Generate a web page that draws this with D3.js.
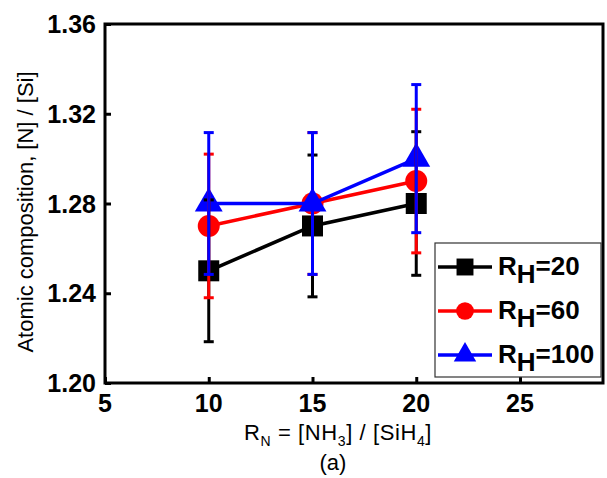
<!DOCTYPE html>
<html>
<head>
<meta charset="utf-8">
<script src="https://cdn.jsdelivr.net/npm/d3@7"></script>
<style>
  body { margin: 0; background: #fff; }
  svg { display: block; font-family: Arial, "Liberation Sans", sans-serif; }
</style>
</head>
<body>
<div class="container"></div>
<script>
// data
const rn = [10, 15, 20];
const rh20 = [1.25, 1.27, 1.28];
const err20 = [0.0316, 0.0316, 0.032];
const rh60 = [1.27, 1.28, 1.29];
const err60 = [0.032, 0.0316, 0.032];
const rh100 = [1.28, 1.28, 1.30];
const err100 = [0.0316, 0.0316, 0.033];
const seriesNames = ["20", "60", "100"];
const xTicks = [5, 10, 15, 20, 25];
const yTicks = [1.20, 1.24, 1.28, 1.32, 1.36];

const w = 607;
const h = 478;
const plotL = 105, plotR = 603, plotT = 24, plotB = 383;

const series = [
  { name: seriesNames[0], y: rh20, err: err20, color: "#000000", shape: d3.symbolSquare, size: 441 },
  { name: seriesNames[1], y: rh60, err: err60, color: "#ff0000", shape: d3.symbolCircle, size: 380 },
  { name: seriesNames[2], y: rh100, err: err100, color: "#0000ff", shape: d3.symbolTriangle, size: 336 }
];

const xScale = d3.scaleLinear().domain([5, 29]).range([plotL, plotR]);
const yScale = d3.scaleLinear().domain([1.20, 1.36]).range([plotB, plotT]);

const svg = d3.select(".container")
  .append("svg")
  .attr("width", w)
  .attr("height", h);

// axes with inward ticks
const xAxis = d3.axisTop(xScale).tickValues(xTicks).tickSize(6).tickFormat("");
const yAxis = d3.axisRight(yScale).tickValues(yTicks).tickSize(6).tickFormat("");

svg.append("g")
  .attr("transform", "translate(0," + plotB + ")")
  .call(xAxis)
  .call(g => g.select(".domain").remove())
  .selectAll("line").attr("stroke", "#000").attr("stroke-width", 3);

svg.append("g")
  .attr("transform", "translate(" + plotL + ",0)")
  .call(yAxis)
  .call(g => g.select(".domain").remove())
  .selectAll("line").attr("stroke", "#000").attr("stroke-width", 3);

svg.selectAll(".xlab")
  .data(xTicks)
  .enter().append("text")
  .attr("x", d => xScale(d))
  .attr("y", 412)
  .attr("text-anchor", "middle")
  .attr("font-size", 25)
  .attr("font-weight", "bold")
  .text(d => d);

svg.selectAll(".ylab")
  .data(yTicks)
  .enter().append("text")
  .attr("x", 96)
  .attr("y", d => yScale(d))
  .attr("dy", "0.36em")
  .attr("text-anchor", "end")
  .attr("font-size", 25)
  .attr("font-weight", "bold")
  .text(d => d.toFixed(2));

// lines and markers
const line = d3.line().x((d, i) => xScale(rn[i])).y(d => yScale(d));

series.forEach(s => {
  svg.append("path")
    .attr("d", line(s.y))
    .attr("fill", "none")
    .attr("stroke", s.color)
    .attr("stroke-width", 3.5);
  svg.selectAll(null)
    .data(s.y)
    .enter().append("path")
    .attr("d", d3.symbol().type(s.shape).size(s.size))
    .attr("transform", (d, i) => "translate(" + xScale(rn[i]) + "," + yScale(d) + ")")
    .attr("fill", s.color);
});

// error bars on top
series.forEach(s => {
  s.y.forEach((v, i) => {
    const x = xScale(rn[i]);
    const y1 = yScale(v + s.err[i]);
    const y2 = yScale(v - s.err[i]);
    svg.append("line")
      .attr("x1", x).attr("x2", x).attr("y1", y1).attr("y2", y2)
      .attr("stroke", s.color).attr("stroke-width", 3);
    [y1, y2].forEach(yy => {
      svg.append("line")
        .attr("x1", x - 5).attr("x2", x + 5).attr("y1", yy).attr("y2", yy)
        .attr("stroke", s.color).attr("stroke-width", 3);
    });
  });
});

// frame
svg.append("rect")
  .attr("x", plotL).attr("y", plotT)
  .attr("width", plotR - plotL).attr("height", plotB - plotT)
  .attr("fill", "none")
  .attr("stroke", "#000")
  .attr("stroke-width", 3);

// legend
const lg = svg.append("g");
lg.append("rect")
  .attr("x", 435).attr("y", 243)
  .attr("width", 166).attr("height", 134)
  .attr("fill", "#fff")
  .attr("stroke", "#333")
  .attr("stroke-width", 1.2);

series.forEach((s, i) => {
  const y = 267 + i * 44;
  lg.append("line")
    .attr("x1", 438).attr("x2", 492).attr("y1", y).attr("y2", y)
    .attr("stroke", s.color).attr("stroke-width", 3.5);
  lg.append("path")
    .attr("d", d3.symbol().type(s.shape).size(s.size * 0.65))
    .attr("transform", "translate(465," + y + ")")
    .attr("fill", s.color);
  const t = lg.append("text")
    .attr("x", 498)
    .attr("y", y + 8)
    .attr("font-size", 26)
    .attr("font-weight", "bold");
  t.append("tspan").text("R");
  t.append("tspan").attr("dy", 8).text("H");
  t.append("tspan").attr("dy", -8).text("=" + s.name);
});

// axis titles
const xt = svg.append("text")
  .attr("x", 338)
  .attr("y", 440)
  .attr("text-anchor", "middle")
  .attr("font-size", 22)
  .attr("letter-spacing", 0.6);
xt.append("tspan").text("R");
xt.append("tspan").attr("font-size", 14).attr("dy", 6).text("N");
xt.append("tspan").attr("dy", -6).text(" = [NH");
xt.append("tspan").attr("font-size", 14).attr("dy", 6).text("3");
xt.append("tspan").attr("dy", -6).text("] / [SiH");
xt.append("tspan").attr("font-size", 14).attr("dy", 6).text("4");
xt.append("tspan").attr("dy", -6).text("]");

svg.append("text")
  .attr("x", 333)
  .attr("y", 470)
  .attr("text-anchor", "middle")
  .attr("font-size", 22)
  .text("(a)");

svg.append("text")
  .attr("transform", "translate(33,212) rotate(-90)")
  .attr("text-anchor", "middle")
  .attr("font-size", 22)
  .text("Atomic composition, [N] / [Si]");
</script>
</body>
</html>
